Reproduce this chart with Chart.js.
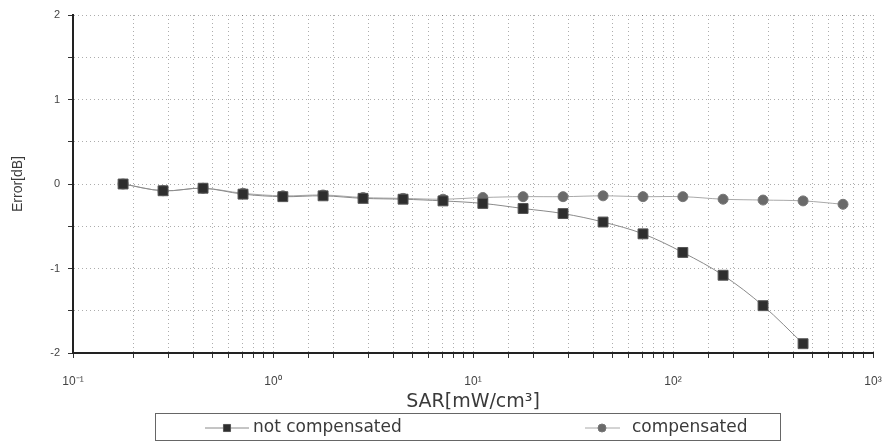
<!DOCTYPE html>
<html>
<head>
<meta charset="utf-8">
<script src="https://cdn.jsdelivr.net/npm/chart.js@4/dist/chart.umd.min.js"></script>
<style>
  body { margin: 0; background: #fff; }
  #wrap { width: 883px; height: 445px; }
</style>
</head>
<body>
<div id="wrap"><canvas id="myChart"></canvas></div>
<script>
// SAR values (mW/cm^3)
var sarValues = [0.178, 0.282, 0.447, 0.708, 1.12, 1.78, 2.82, 4.47, 7.08, 11.2, 17.8, 28.2, 44.7, 70.8, 112, 178, 282, 447, 708]
// error in dB
var notCompensated = [0.0, -0.08, -0.05, -0.12, -0.15, -0.14, -0.17, -0.18, -0.20, -0.23, -0.29, -0.35, -0.45, -0.59, -0.81, -1.08, -1.44, -1.89]
var compensated = [0.0, -0.08, -0.05, -0.11, -0.14, -0.13, -0.16, -0.17, -0.18, -0.16, -0.15, -0.15, -0.14, -0.15, -0.15, -0.18, -0.19, -0.20, -0.24]
var xTickLabels = { '0.1': '10\u207B\u00B9', '1': '10\u2070', '10': '10\u00B9', '100': '10\u00B2', '1000': '10\u00B3' }
var yTickLabels = { '2': '2', '1': '1', '0': '0', '-1': '-1', '-2': '-2' }

function toPoints(ys) {
    var pts = []
    for (var i = 0; i < ys.length; i++) {
        pts.push({ x: sarValues[i], y: ys[i] })
    }
    return pts
}

// legend drawn in a box under the axis title
const legendBox = {
    id: 'legendBox',
    afterDraw(chart) {
        const ctx = chart.ctx
        ctx.save()
        ctx.strokeStyle = '#666'
        ctx.lineWidth = 1
        ctx.strokeRect(155.5, 413.5, 625, 27)
        const spots = [{ mx: 227, l0: 205, l1: 249, tx: 253 }, { mx: 602, l0: 585, l1: 620, tx: 632 }]
        chart.data.datasets.forEach(function (ds, i) {
            const s = spots[i]
            const y = 428
            ctx.strokeStyle = ds.borderColor
            ctx.lineWidth = 1
            ctx.beginPath()
            ctx.moveTo(s.l0, y)
            ctx.lineTo(s.l1, y)
            ctx.stroke()
            ctx.fillStyle = ds.pointBackgroundColor
            ctx.strokeStyle = ds.pointBorderColor
            Chart.helpers.drawPoint(ctx, { pointStyle: ds.pointStyle, radius: ds.pointStyle === 'rect' ? 5 : 4, borderWidth: 1, rotation: 0 }, s.mx, y)
            ctx.fillStyle = '#3a3a3a'
            ctx.font = '17px "DejaVu Sans"'
            ctx.textBaseline = 'middle'
            ctx.fillText(ds.label, s.tx, y)
        })
        ctx.restore()
    }
}

const gridStyle = {
    color: 'rgba(0,0,0,0.32)',
    lineWidth: 1,
    tickColor: '#333',
    tickLength: 5
}

new Chart(document.getElementById('myChart'), {
    type: 'line',
    data: {
        datasets: [
            {
                label: 'not compensated',
                data: toPoints(notCompensated),
                borderColor: '#8a8a8a',
                borderWidth: 1,
                tension: 0.35,
                pointStyle: 'rect',
                pointRadius: 7,
                pointBackgroundColor: '#2e2e2e',
                pointBorderColor: '#555',
                pointBorderWidth: 1
            },
            {
                label: 'compensated',
                data: toPoints(compensated),
                borderColor: '#a8a8a8',
                borderWidth: 1,
                tension: 0.35,
                pointStyle: 'circle',
                pointRadius: 5,
                pointBackgroundColor: '#6a6a6a',
                pointBorderColor: '#777',
                pointBorderWidth: 1
            }
        ]
    },
    options: {
        responsive: true,
        maintainAspectRatio: false,
        animation: false,
        layout: { padding: { top: 15, right: 10, bottom: 30, left: 0 } },
        plugins: {
            legend: { display: false },
            tooltip: { enabled: false }
        },
        scales: {
            x: {
                type: 'logarithmic',
                min: 0.1,
                max: 1000,
                afterFit: function (scale) {
                    scale.height = 62
                    scale.paddingLeft = 0
                    scale.paddingRight = 0
                },
                border: { color: '#222', width: 2, dash: [1, 3] },
                grid: gridStyle,
                ticks: {
                    autoSkip: false,
                    maxRotation: 0,
                    padding: 16,
                    color: '#444',
                    font: { family: 'Liberation Sans', size: 12 },
                    callback: function (v) { return xTickLabels[String(v)] || '' }
                },
                title: {
                    display: true,
                    text: 'SAR[mW/cm\u00B3]',
                    color: '#3a3a3a',
                    font: { family: 'DejaVu Sans', size: 19 },
                    padding: { top: 0, bottom: 2 }
                }
            },
            y: {
                min: -2,
                max: 2,
                afterFit: function (scale) { scale.width = 73 },
                border: { color: '#222', width: 2, dash: [1, 3] },
                grid: gridStyle,
                ticks: {
                    stepSize: 0.5,
                    padding: 8,
                    color: '#444',
                    font: { family: 'Liberation Sans', size: 11 },
                    callback: function (v) { return yTickLabels[String(v)] || '' }
                },
                title: {
                    display: true,
                    text: 'Error[dB]',
                    color: '#3a3a3a',
                    font: { family: 'Liberation Sans', size: 14 },
                    padding: { top: 10, bottom: 0 }
                }
            }
        }
    },
    plugins: [legendBox]
})
</script>
</body>
</html>
